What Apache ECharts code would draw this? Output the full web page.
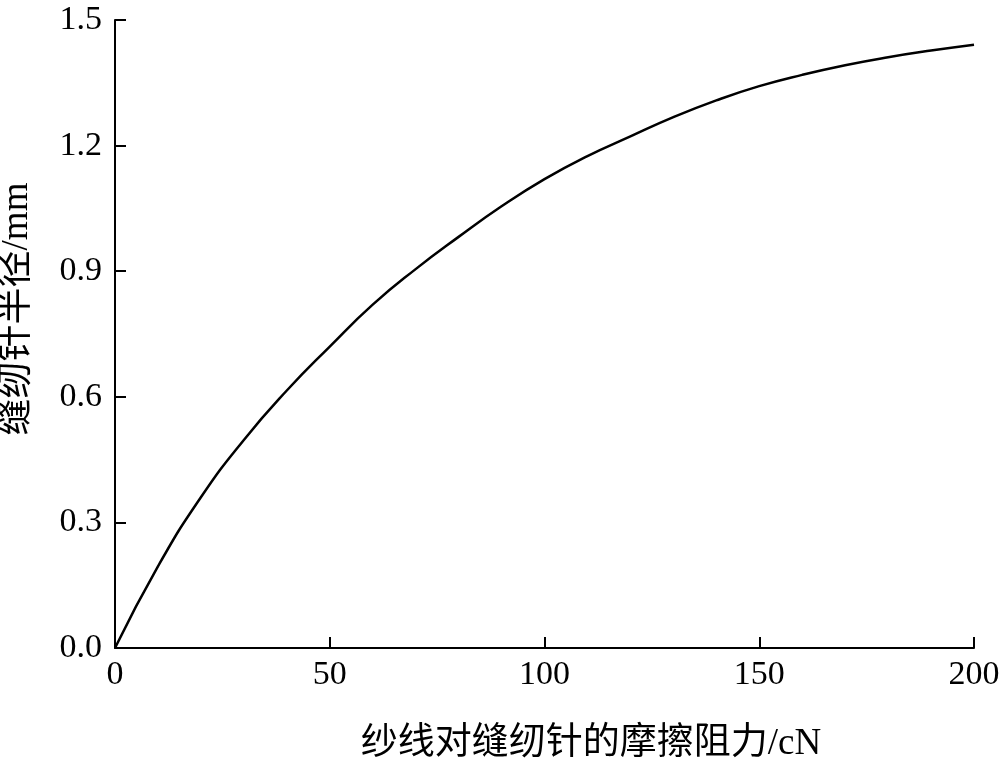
<!DOCTYPE html>
<html>
<head>
<meta charset="utf-8">
<script src="https://cdn.jsdelivr.net/npm/echarts@6/dist/echarts.min.js"></script>
<style>html,body{margin:0;padding:0;background:#fff}#c{width:1000px;height:767px}</style>
</head>
<body>
<div id="c"></div>
<script>
const xValues = [0, 10, 20, 30, 40, 50, 60, 70, 80, 90, 100, 110, 120, 130, 140, 150, 160, 170, 180, 190, 200];
const radius = [0, 0.195, 0.360, 0.497, 0.615, 0.720, 0.820, 0.905, 0.982, 1.055, 1.120, 1.175, 1.222, 1.268, 1.308, 1.342, 1.369, 1.392, 1.411, 1.427, 1.441];
const xName = '纱线对缝纫针的摩擦阻力/cN';
const yName = '缝纫针半径/mm';

const FONT = "'Liberation Serif', 'Noto Sans CJK SC', serif";
const chart = echarts.init(document.getElementById('c'), null, {renderer: 'canvas'});
chart.setOption({
  animation: false,
  backgroundColor: '#fff',
  grid: {left: 115, right: 26, top: 20, bottom: 119, containLabel: false, outerBoundsMode: 'none'},
  xAxis: {
    type: 'value', min: 0, max: 200, interval: 50,
    name: xName, nameLocation: 'middle', nameGap: 78,
    nameTextStyle: {fontFamily: FONT, fontSize: 37, color: '#000', padding: [0, 0, 0, 93]},
    axisLine: {show: true, lineStyle: {color: '#000', width: 2}},
    axisTick: {show: true, inside: true, length: 11, lineStyle: {color: '#000', width: 2}},
    axisLabel: {fontFamily: FONT, fontSize: 34, color: '#000', margin: 10},
    splitLine: {show: false}
  },
  yAxis: {
    type: 'value', min: 0, max: 1.5, interval: 0.3,
    name: yName, nameLocation: 'middle', nameGap: 79,
    nameTextStyle: {fontFamily: FONT, fontSize: 37, color: '#000', padding: [0, 0, 0, 50]},
    axisLine: {show: true, lineStyle: {color: '#000', width: 2}},
    axisTick: {show: true, inside: true, length: 11, lineStyle: {color: '#000', width: 2}},
    axisLabel: {fontFamily: FONT, fontSize: 34, color: '#000', margin: 13, formatter: v => v.toFixed(1)},
    splitLine: {show: false}
  },
  series: [{
    type: 'line',
    data: xValues.map((x, i) => [x, radius[i]]),
    smooth: true,
    showSymbol: false,
    lineStyle: {color: '#000', width: 2.5}
  }]
});
</script>
</body>
</html>
